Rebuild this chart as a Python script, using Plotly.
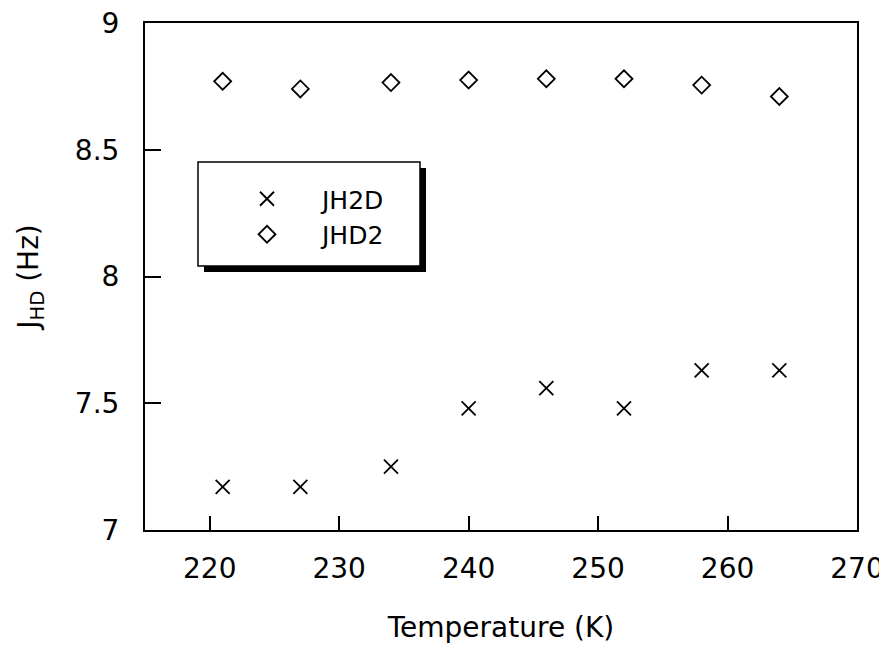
import plotly.graph_objects as go

temperature = [221, 227, 234, 240, 246, 252, 258, 264]
jh2d = [7.17, 7.17, 7.25, 7.48, 7.56, 7.48, 7.63, 7.63]
jhd2 = [8.77, 8.74, 8.765, 8.775, 8.78, 8.78, 8.755, 8.71]
x_ticks = [220, 230, 240, 250, 260, 270]
y_ticks = [7, 7.5, 8, 8.5, 9]
y_tick_text = ["7", "7.5", "8", "8.5", "9"]

FONT = "DejaVu Sans, Liberation Sans, Arial, sans-serif"
FS = 28

# page body margin offset (screenshot px)
OFF = 8
W, H = 887 - OFF, 656 - 2 * OFF - 4
PL, PR, PT, PB = 145, 857, 23, 530   # target plot frame in screenshot px

fig = go.Figure()
fig.add_trace(go.Scatter(
    x=temperature, y=jh2d, mode="markers", name="JH2D",
    marker=dict(symbol="x-thin-open", size=14, color="black",
                line=dict(width=1.8, color="black")),
))
fig.add_trace(go.Scatter(
    x=temperature, y=jhd2, mode="markers", name="JHD2",
    marker=dict(symbol="diamond-open", size=13, color="black",
                line=dict(width=1.8, color="black")),
))

def px(x):
    return (x - PL) / (PR - PL)
def py(y):
    return 1 - (y - PT) / (PB - PT)

# legend box with drop shadow
L, R, T, B = 198, 420, 162, 266
fig.add_shape(type="rect", xref="paper", yref="paper", layer="above",
              x0=px(L + 6), x1=px(R + 6), y0=py(B + 6), y1=py(T + 6),
              fillcolor="black", line=dict(width=0))
fig.add_shape(type="rect", xref="paper", yref="paper", layer="above",
              x0=px(L), x1=px(R), y0=py(B), y1=py(T),
              fillcolor="white", line=dict(width=1.5, color="black"))

fig.update_layout(
    width=W, height=H,
    margin=dict(l=PL - OFF, r=W - (PR - OFF), t=PT - OFF, b=H - (PB - OFF),
                autoexpand=False),
    paper_bgcolor="white", plot_bgcolor="white",
    font=dict(family=FONT, size=FS, color="black"),
    showlegend=True,
    legend=dict(x=px(212), y=py(176), xanchor="left", yanchor="top",
                bgcolor="rgba(0,0,0,0)", borderwidth=0,
                itemwidth=100, tracegroupgap=0,
                font=dict(family=FONT, size=25, color="black")),
    xaxis=dict(range=[215, 270], tickvals=x_ticks, ticks="inside", ticklen=14,
               tickwidth=1.5, tickcolor="black", showline=True, linecolor="black",
               linewidth=2, mirror=True, showgrid=False, zeroline=False,
               ticklabelstandoff=12, ticklabeloverflow="allow",
               title=dict(text="Temperature (K)", standoff=40,
                          font=dict(size=FS))),
    yaxis=dict(range=[7, 9], tickvals=y_ticks, ticktext=y_tick_text,
               ticks="inside", ticklen=16, tickwidth=1.5, tickcolor="black",
               showline=True, linecolor="black", linewidth=2, mirror=True,
               showgrid=False, zeroline=False, ticklabelstandoff=18,
               ticklabeloverflow="allow",
               title=dict(text="J<sub>HD</sub> (Hz)", standoff=28,
                          font=dict(size=FS))),
)

fig.write_html("out.html")
